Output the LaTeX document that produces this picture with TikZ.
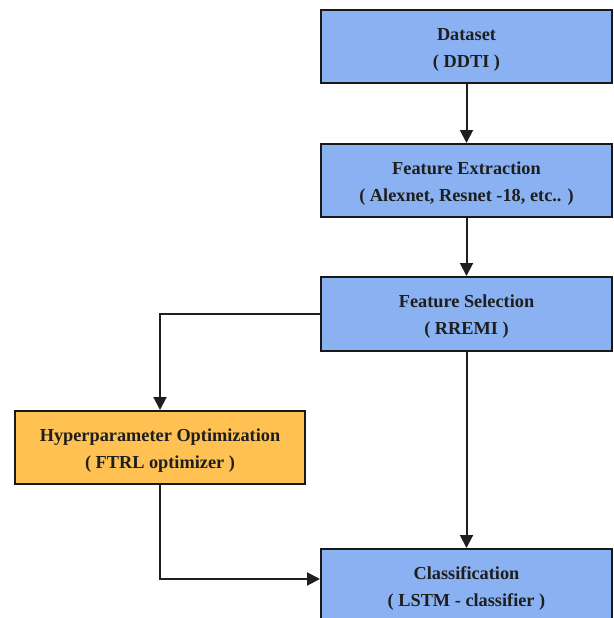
\documentclass[tikz,border=0pt]{standalone}
\usepackage{fontspec}
\setmainfont{Liberation Serif}[BoldFont={Liberation Serif Bold}]
\newfontfamily\boxfont{Liberation Serif Bold}
\usetikzlibrary{arrows.meta}
\definecolor{boxblue}{HTML}{8AB2F2}
\definecolor{boxorange}{HTML}{FFC252}
\definecolor{txt}{HTML}{1E1E1E}
\tikzset{
  boxtext/.style={align=center, text=txt, font=\boxfont\fontsize{18.3}{27}\selectfont, inner sep=0pt, yshift=-3pt},
  procbox/.style={draw=black!90, line width=2pt, fill=boxblue, minimum width=291pt, minimum height=73pt,
    inner sep=0pt, label={[boxtext]center:#1}},
  optbox/.style={procbox={#1}, fill=boxorange, minimum width=290pt},
  conn/.style={draw=black!88, line width=2pt, -{Triangle[width=13pt,length=13pt]}}
}
\begin{document}
\begin{tikzpicture}[x=1pt,y=-1pt]
\useasboundingbox (0,0) rectangle (613,618);
\fill[white] (0,0) rectangle (613,618);
\node[procbox={Dataset\\( DDTI )}] (ds) at (466.5,46.5) {};
\node[procbox={Feature Extraction\\( Alexnet, Resnet -18, etc.. )}] (fe) at (466.5,180.5) {};
\node[procbox={Feature Selection\\( RREMI )}, minimum height=74pt] (fs) at (466.5,314) {};
\node[optbox={Hyperparameter Optimization\\( FTRL optimizer )}] (hp) at (160,447.5) {};
\node[procbox={Classification\\( LSTM - classifier )}] (cl) at (466.5,585.5) {};
\draw[conn] (ds.south) -- (fe.north);
\draw[conn] (fe.south) -- (fs.north);
\draw[conn] (fs.west) -| (hp.north);
\draw[conn] (fs.south) -- (cl.north);
\draw[conn] (hp.south) |- ([yshift=6.5pt]cl.west);
\end{tikzpicture}
\end{document}
